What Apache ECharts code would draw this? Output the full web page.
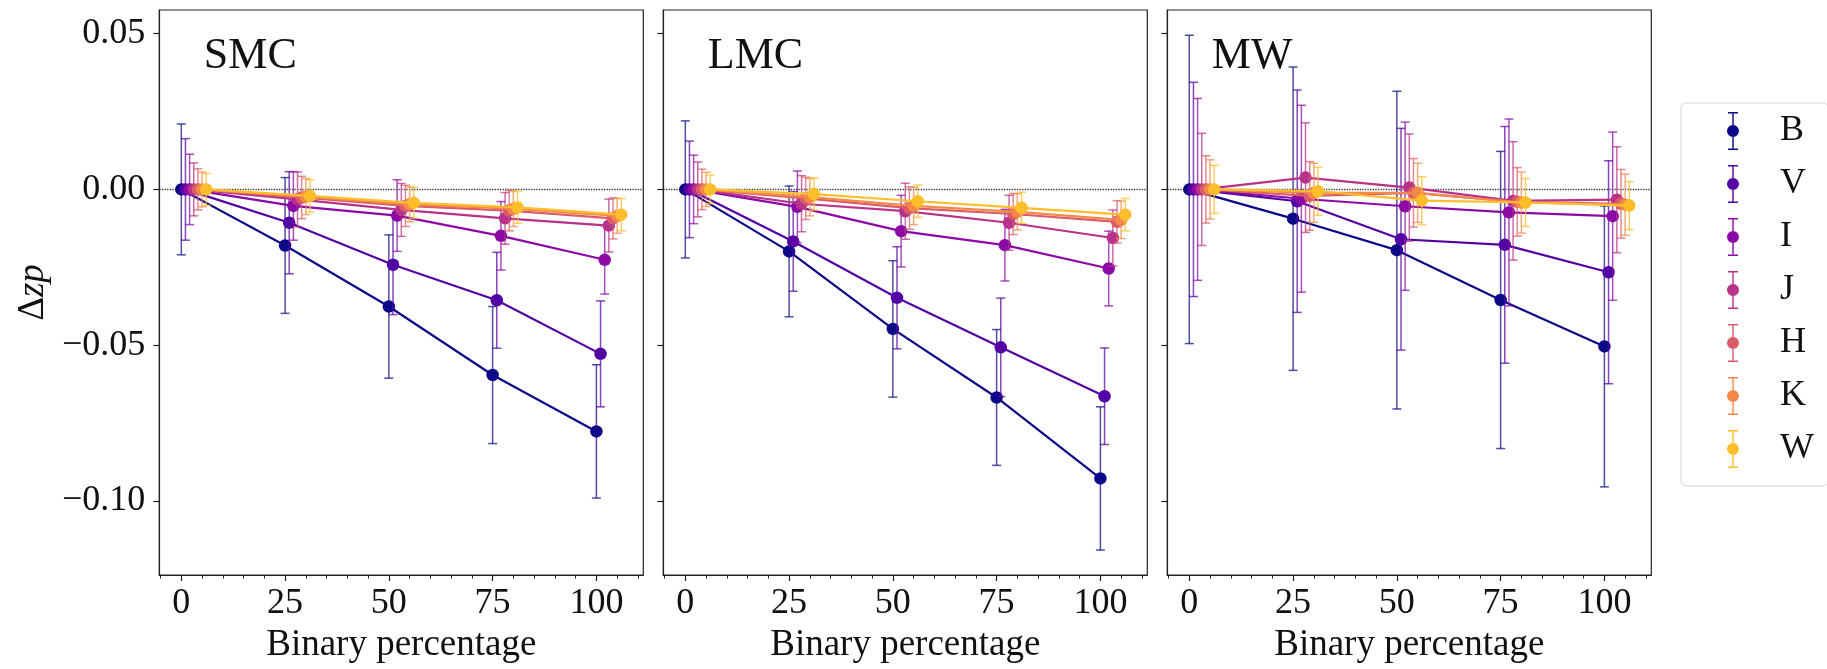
<!DOCTYPE html>
<html>
<head>
<meta charset="utf-8">
<script src="https://cdn.jsdelivr.net/npm/echarts@6/dist/echarts.min.js"></script>
<style>
html,body{margin:0;padding:0;background:#ffffff;}
#chart{width:1827px;height:669px;}
</style>
</head>
<body>
<div id="chart"></div>
<script>
// ---------------- data ----------------
const panels = ['SMC', 'LMC', 'MW'];
const bands = ['B', 'V', 'I', 'J', 'H', 'K', 'W'];
const percentages = [0, 25, 50, 75, 100];
const bandOffsets = [0, 1, 2, 3, 4, 5, 6];
const xTickValues = [0, 25, 50, 75, 100];
const xMinorTickValues = [-5, 0, 5, 10, 15, 20, 25, 30, 35, 40, 45, 50, 55, 60, 65, 70, 75, 80, 85, 90, 95, 100, 105, 110];
const yTickValues = [-0.10, -0.05, 0.00, 0.05];

// Delta zp per band (rows: B V I J H K W; columns: 0,25,50,75,100 %)
const smcZp = [
  [0, -0.0180, -0.0376, -0.0596, -0.0777],
  [0, -0.0107, -0.0242, -0.0356, -0.0528],
  [0, -0.0053, -0.0084, -0.0149, -0.0226],
  [0, -0.0032, -0.0066, -0.0093, -0.0116],
  [0, -0.0026, -0.0053, -0.0068, -0.0093],
  [0, -0.0023, -0.0048, -0.0062, -0.0085],
  [0, -0.0021, -0.0043, -0.0058, -0.0081]
];
const smcErr = [
  [0.0210, 0.0218, 0.0230, 0.0220, 0.0214],
  [0.0163, 0.0164, 0.0160, 0.0154, 0.0170],
  [0.0113, 0.0110, 0.0115, 0.0110, 0.0110],
  [0.0085, 0.0088, 0.0085, 0.0083, 0.0085],
  [0.0066, 0.0068, 0.0066, 0.0065, 0.0066],
  [0.0056, 0.0058, 0.0056, 0.0057, 0.0056],
  [0.0051, 0.0052, 0.0050, 0.0051, 0.0052]
];
const lmcZp = [
  [0, -0.0199, -0.0448, -0.0668, -0.0928],
  [0, -0.0167, -0.0348, -0.0507, -0.0664],
  [0, -0.0056, -0.0134, -0.0179, -0.0254],
  [0, -0.0046, -0.0070, -0.0107, -0.0156],
  [0, -0.0029, -0.0060, -0.0079, -0.0104],
  [0, -0.0025, -0.0053, -0.0072, -0.0098],
  [0, -0.0015, -0.0038, -0.0059, -0.0081]
];
const lmcErr = [
  [0.0220, 0.0210, 0.0219, 0.0218, 0.0230],
  [0.0155, 0.0160, 0.0164, 0.0158, 0.0155],
  [0.0110, 0.0115, 0.0115, 0.0115, 0.0120],
  [0.0088, 0.0090, 0.0090, 0.0088, 0.0090],
  [0.0065, 0.0068, 0.0068, 0.0066, 0.0068],
  [0.0055, 0.0060, 0.0060, 0.0058, 0.0060],
  [0.0046, 0.0052, 0.0052, 0.0050, 0.0052]
];
const mwZp = [
  [0, -0.0094, -0.0195, -0.0355, -0.0504],
  [0, -0.0038, -0.0160, -0.0178, -0.0266],
  [0, -0.0030, -0.0054, -0.0074, -0.0086],
  [0,  0.0038,  0.0006, -0.0037, -0.0033],
  [0, -0.0021, -0.0011, -0.0040, -0.0046],
  [0, -0.0011, -0.0011, -0.0042, -0.0049],
  [0, -0.0006, -0.0036, -0.0042, -0.0052]
];
const mwErr = [
  [0.0495, 0.0487, 0.0510, 0.0477, 0.0451],
  [0.0344, 0.0357, 0.0356, 0.0380, 0.0358],
  [0.0292, 0.0300, 0.0270, 0.0300, 0.0270],
  [0.0180, 0.0176, 0.0172, 0.0190, 0.0170],
  [0.0108, 0.0110, 0.0110, 0.0110, 0.0110],
  [0.0095, 0.0095, 0.0095, 0.0098, 0.0098],
  [0.0077, 0.0077, 0.0077, 0.0077, 0.0077]
];

// ---------------- styling / layout ----------------
const panelValues = [smcZp, lmcZp, mwZp];
const panelErrors = [smcErr, lmcErr, mwErr];
const colors = ['#0d0887', '#5302a3', '#8b0aa5', '#b83289', '#db5c68', '#f48849', '#febd2a'];
const FONT = '"Liberation Serif", "DejaVu Serif", serif';
const INK = '#111111';
const xMin = -5.3, xMax = 111.3;
const yMin = -0.1238, yMax = 0.0576;
const gridLefts = [159.3, 663.3, 1167.3];
const gridTop = 10, gridW = 484, gridH = 566.7;

const errIcon = 'path://M1 0H11V1.5H1Z M5.3 0H6.7V38H5.3Z M1 36.5H11V38H1Z M0 19A6 6 0 1 1 12 19A6 6 0 1 1 0 19Z';

function fmtY(v) {
  const s = Math.abs(v).toFixed(2);
  return v < -1e-9 ? '\u2212' + s : s;
}

function renderErr(params, api) {
  const x = api.value(0), y = api.value(1), e = api.value(2);
  const top = api.coord([x, y + e]);
  const bot = api.coord([x, y - e]);
  const cap = 4.5;
  const style = { stroke: api.visual('color'), lineWidth: 1.5, opacity: 0.72, fill: null };
  return {
    type: 'group',
    children: [
      { type: 'line', shape: { x1: top[0], y1: top[1], x2: bot[0], y2: bot[1] }, style: style },
      { type: 'line', shape: { x1: top[0] - cap, y1: top[1], x2: top[0] + cap, y2: top[1] }, style: style },
      { type: 'line', shape: { x1: bot[0] - cap, y1: bot[1], x2: bot[0] + cap, y2: bot[1] }, style: style }
    ]
  };
}

const grid = [], xAxis = [], yAxis = [], series = [], titles = [];

panels.forEach((pname, i) => {
  grid.push({
    left: gridLefts[i], top: gridTop, width: gridW, height: gridH,
    show: true, borderColor: '#222', borderWidth: 1.2, backgroundColor: 'rgba(0,0,0,0)'
  });
  // main x axis
  xAxis.push({
    type: 'value', gridIndex: i, min: xMin, max: xMax, position: 'bottom',
    name: 'Binary percentage', nameLocation: 'middle', nameGap: 52,
    nameTextStyle: { fontFamily: FONT, fontSize: 37, color: INK },
    axisLine: { show: true, onZero: false, lineStyle: { color: '#222', width: 1.2 } },
    axisTick: { show: true, customValues: xTickValues, length: 6, lineStyle: { color: '#222', width: 1.2 } },
    axisLabel: { show: true, customValues: xTickValues, margin: 11, fontFamily: FONT, fontSize: 36, color: INK },
    splitLine: { show: false }
  });
  // minor ticks x axis
  xAxis.push({
    type: 'value', gridIndex: i, min: xMin, max: xMax, position: 'bottom',
    axisLine: { show: false, onZero: false },
    axisTick: { show: true, customValues: xMinorTickValues, length: 3.5, lineStyle: { color: '#222', width: 1 } },
    axisLabel: { show: false },
    splitLine: { show: false }
  });
  yAxis.push({
    type: 'value', gridIndex: i, min: yMin, max: yMax, position: 'left',
    name: i === 0 ? '{d|\u0394}{m|zp}' : '', nameLocation: 'middle', nameGap: 108, nameRotate: 90,
    nameTextStyle: {
      fontFamily: FONT, fontSize: 37, color: INK,
      rich: {
        d: { fontFamily: FONT, fontSize: 37, color: INK },
        m: { fontFamily: FONT, fontSize: 37, color: INK, fontStyle: 'italic' }
      }
    },
    axisLine: { show: true, onZero: false, lineStyle: { color: '#222', width: 1.2 } },
    axisTick: { show: true, customValues: yTickValues, length: 6, lineStyle: { color: '#222', width: 1.2 } },
    axisLabel: { show: i === 0, customValues: yTickValues, margin: 14, fontFamily: FONT, fontSize: 36, color: INK, formatter: fmtY },
    splitLine: { show: false }
  });
  titles.push({
    text: pname, left: gridLefts[i] + 39.5, top: 29,
    textStyle: { fontFamily: FONT, fontSize: 44, fontWeight: 'normal', color: INK }
  });

  const vals = panelValues[i], errs = panelErrors[i];
  bands.forEach((b, k) => {
    const errData = percentages.map((p, j) => [p + bandOffsets[k], vals[k][j], errs[k][j]]);
    const lineData = percentages.map((p, j) => [p + bandOffsets[k], vals[k][j]]);
    const errSeries = {
      type: 'custom', name: b, xAxisIndex: 2 * i, yAxisIndex: i,
      renderItem: renderErr, data: errData,
      encode: { x: 0, y: 1 }, dimensions: ['x', 'y', 'err'],
      itemStyle: { color: colors[k] }, z: 2 + 2 * k, silent: true
    };
    if (k === 0) {
      errSeries.markLine = {
        silent: true, symbol: 'none', z: 1, animation: false,
        label: { show: false },
        lineStyle: { type: 'dotted', color: '#333', width: 1.3 },
        data: [{ yAxis: 0 }]
      };
    }
    series.push(errSeries);
    series.push({
      type: 'line', name: b, xAxisIndex: 2 * i, yAxisIndex: i,
      data: lineData, symbol: 'circle', symbolSize: 12.5, showSymbol: true,
      lineStyle: { color: colors[k], width: 2.2 },
      itemStyle: { color: colors[k] },
      emphasis: { disabled: true },
      z: 3 + 2 * k
    });
  });
});

const chart = echarts.init(document.getElementById('chart'), null, { renderer: 'canvas' });
chart.setOption({
  animation: false,
  backgroundColor: '#ffffff',
  title: titles,
  grid: grid,
  xAxis: xAxis,
  yAxis: yAxis,
  legend: {
    orient: 'vertical', left: 1681, top: 103,
    padding: [9, 14, 18, 46], itemGap: 15, itemWidth: 12, itemHeight: 38,
    borderColor: '#d4d4d4', borderWidth: 1, borderRadius: 5, backgroundColor: '#ffffff',
    textStyle: { fontFamily: FONT, fontSize: 36, color: INK, padding: [0, 0, 0, 36] },
    data: bands.map(b => ({ name: b, icon: errIcon }))
  },
  series: series
});
</script>
</body>
</html>
